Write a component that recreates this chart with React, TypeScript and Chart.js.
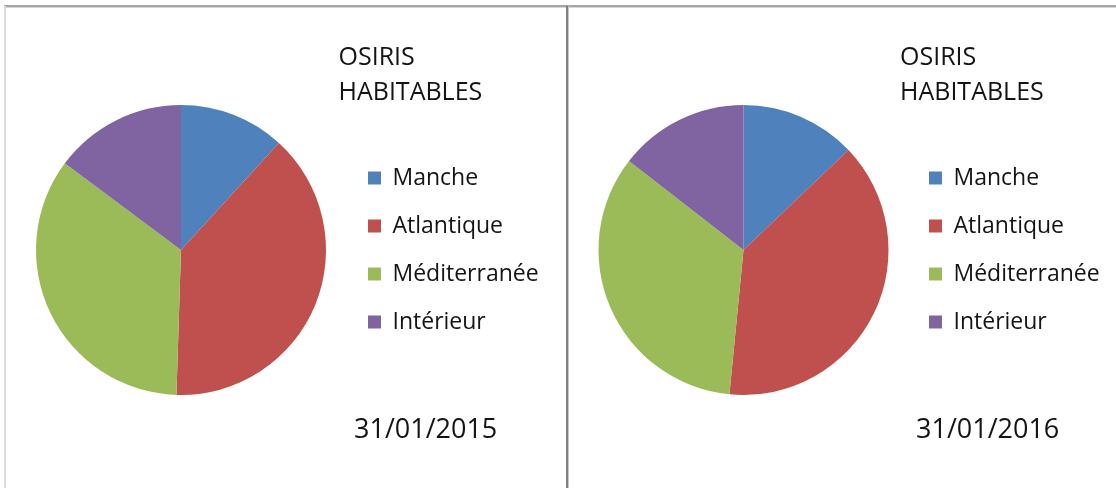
import React, { useEffect, useRef } from "react";
import { Chart, registerables } from "chart.js";

Chart.register(...registerables);

const categories = ["Manche", "Atlantique", "Méditerranée", "Intérieur"];
const values2015 = [11.8, 38.7, 34.7, 14.8];
const values2016 = [12.9, 38.7, 34.0, 14.5];
const titleLines = ["OSIRIS", "HABITABLES"];
const dates = ["31/01/2015", "31/01/2016"];
const colors = ["#4F81BD", "#C0504D", "#9BBB59", "#8064A2"];

const FONT = "'Open Sans', 'DejaVu Sans', sans-serif";
const TEXT_COLOR = "#141414";
const H = 488;
const LEGEND_FONT = 23;
const LEGEND_PAD = 25;
const BOX = 13;

type PanelProps = {
  values: number[];
  date: string;
  left: number;
  width: number;
  pieCenterX: number;
  boxX: number;
  titleX: number;
  dateX: number;
};

function legendNaturalWidth(): number {
  const c = document.createElement("canvas");
  const ctx = c.getContext("2d")!;
  ctx.font = `${LEGEND_FONT}px ${FONT}`;
  let maxW = 0;
  for (const l of categories) maxW = Math.max(maxW, ctx.measureText(l).width);
  return LEGEND_PAD + BOX + LEGEND_FONT / 2 + maxW + 10;
}

function Panel({ values, date, left, width, pieCenterX, boxX, titleX, dateX }: PanelProps) {
  const ref = useRef<HTMLCanvasElement | null>(null);
  useEffect(() => {
    if (!ref.current) return;
    const legendLeft = boxX - LEGEND_PAD;
    const legendW = legendNaturalWidth();
    const padR = width - legendLeft - legendW;
    const padL = 2 * pieCenterX - legendLeft;
    const textPlugin = {
      id: "panelText",
      afterDraw(chart: any) {
        const ctx = chart.ctx;
        ctx.save();
        ctx.fillStyle = TEXT_COLOR;
        ctx.textAlign = "left";
        ctx.textBaseline = "alphabetic";
        ctx.font = `25px ${FONT}`;
        ctx.fillText(titleLines[0], titleX, 65);
        ctx.fillText(titleLines[1], titleX, 100);
        ctx.font = `27px ${FONT}`;
        ctx.fillText(date, dateX, 438);
        ctx.restore();
      },
    };
    const chart = new Chart(ref.current, {
      type: "pie",
      data: {
        labels: categories,
        datasets: [
          {
            data: values,
            backgroundColor: colors,
            borderWidth: 0,
            hoverBorderWidth: 0,
            hoverOffset: 0,
          },
        ],
      },
      options: {
        responsive: false,
        animation: false,
        layout: { padding: { top: 105, bottom: H - 395, left: padL, right: padR } },
        plugins: {
          tooltip: { enabled: false },
          title: { display: false },
          legend: {
            display: true,
            position: "right",
            align: "center",
            labels: {
              boxWidth: BOX,
              boxHeight: BOX,
              padding: LEGEND_PAD,
              color: TEXT_COLOR,
              font: { family: FONT, size: LEGEND_FONT },
            },
          },
        },
      },
      plugins: [textPlugin],
    } as any);
    return () => chart.destroy();
  }, [values, date, left, width, pieCenterX, boxX, titleX, dateX]);
  return (
    <canvas
      ref={ref}
      width={width}
      height={H}
      style={{ position: "absolute", left, top: 0, width, height: H, display: "block" }}
    />
  );
}

export default function App() {
  return (
    <div
      style={{
        position: "absolute",
        left: 0,
        top: 0,
        width: 1116,
        height: H,
        background: "#ffffff",
        overflow: "hidden",
      }}
    >
      <Panel values={values2015} date={dates[0]} left={0} width={567} pieCenterX={181} boxX={368} titleX={338.5} dateX={354} />
      <Panel values={values2016} date={dates[1]} left={569} width={547} pieCenterX={174.5} boxX={360} titleX={331} dateX={347} />
      <div style={{ position: "absolute", left: 4, top: 5, width: 1112, height: 2, background: "#a6a6a6" }} />
      <div style={{ position: "absolute", left: 4, top: 7, width: 1112, height: 1, background: "#d6d6d6" }} />
      <div style={{ position: "absolute", left: 4, top: 6, width: 2, height: H - 6, background: "#dcdcdc" }} />
      <div style={{ position: "absolute", left: 566, top: 6, width: 2, height: H - 6, background: "#7f7f7f" }} />
      <div style={{ position: "absolute", left: 568, top: 6, width: 1, height: H - 6, background: "#c8c8c8" }} />
    </div>
  );
}
